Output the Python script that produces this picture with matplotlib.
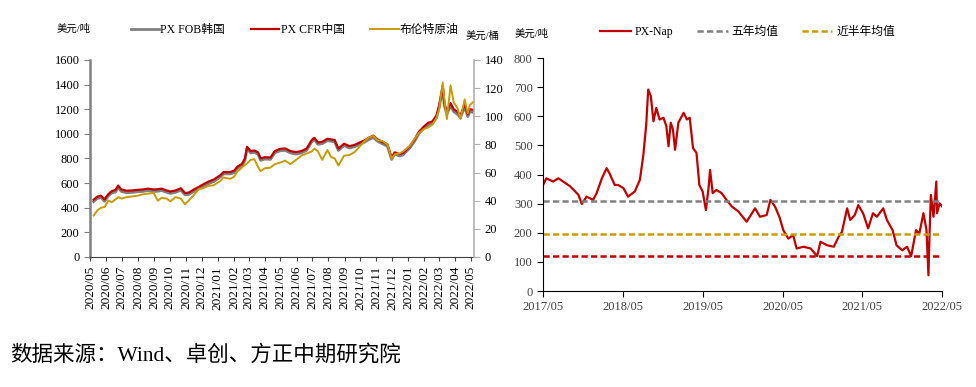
import matplotlib
matplotlib.use("Agg")
from matplotlib import pyplot as plt
import matplotlib.dates as mdates
import pandas as pd

plt.rcParams['font.family'] = ['Liberation Serif', 'Noto Sans CJK SC']
plt.rcParams['axes.unicode_minus'] = False

RED = "#C00000"
GRAY = "#808080"
GOLD = "#C99A06"

# left chart: PX prices (USD/t) and Brent (USD/bbl)
left_dates = [
    "2020-05-08", "2020-05-15", "2020-05-22", "2020-05-29", "2020-06-05", "2020-06-12",
    "2020-06-19", "2020-06-24", "2020-06-30", "2020-07-10", "2020-07-20", "2020-07-31",
    "2020-08-10", "2020-08-20", "2020-08-31", "2020-09-08", "2020-09-15", "2020-09-25",
    "2020-10-02", "2020-10-12", "2020-10-22", "2020-10-30", "2020-11-06", "2020-11-16",
    "2020-11-25", "2020-12-04", "2020-12-14", "2020-12-24", "2021-01-06", "2021-01-12",
    "2021-01-25", "2021-02-01", "2021-02-08", "2021-02-16", "2021-02-22", "2021-02-26",
    "2021-03-05", "2021-03-12", "2021-03-19", "2021-03-24", "2021-04-01", "2021-04-12",
    "2021-04-20", "2021-04-30", "2021-05-10", "2021-05-20", "2021-05-31", "2021-06-10",
    "2021-06-20", "2021-06-30", "2021-07-05", "2021-07-12", "2021-07-20", "2021-07-30",
    "2021-08-06", "2021-08-13", "2021-08-20", "2021-08-31", "2021-09-10", "2021-09-20",
    "2021-09-30", "2021-10-08", "2021-10-18", "2021-10-26", "2021-11-03", "2021-11-12",
    "2021-11-22", "2021-11-30", "2021-12-06", "2021-12-15", "2021-12-22", "2022-01-04",
    "2022-01-13", "2022-01-21", "2022-01-31", "2022-02-08", "2022-02-16", "2022-02-24",
    "2022-03-01", "2022-03-08", "2022-03-11", "2022-03-16", "2022-03-23", "2022-03-29",
    "2022-04-05", "2022-04-11", "2022-04-19", "2022-04-25", "2022-04-29", "2022-05-05",
]
px_cfr_china = [
    465, 490, 498, 468, 510, 535, 545, 580, 548, 538, 540, 545,
    548, 555, 548, 550, 555, 540, 532, 540, 558, 520, 522, 548,
    568, 590, 612, 628, 665, 690, 690, 700, 735, 755, 800, 895,
    860, 865, 850, 800, 810, 808, 860, 878, 882, 860, 852, 860,
    880, 950, 968, 930, 935, 960, 955, 950, 880, 920, 900, 910,
    930, 945, 970, 985, 955, 935, 915, 808, 850, 835, 845, 900,
    955, 1015, 1060, 1090, 1100, 1150, 1230, 1390, 1250, 1180, 1250, 1200,
    1180, 1150, 1240, 1160, 1200, 1195,
]
px_fob_korea = [
    450, 475, 482, 452, 495, 520, 528, 565, 532, 522, 524, 530,
    532, 540, 532, 534, 540, 525, 516, 525, 542, 505, 507, 532,
    552, 575, 596, 612, 650, 675, 675, 685, 720, 740, 785, 880,
    845, 850, 835, 785, 795, 793, 845, 862, 866, 845, 836, 845,
    865, 935, 952, 915, 920, 945, 940, 935, 865, 905, 885, 895,
    915, 930, 955, 970, 940, 920, 900, 792, 835, 820, 830, 885,
    940, 1000, 1045, 1072, 1082, 1130, 1210, 1370, 1230, 1160, 1228, 1180,
    1160, 1130, 1220, 1140, 1180, 1175,
]
brent = [
    29.5, 33, 35, 35.5, 40, 39, 41, 42.5, 41.5, 42.5, 43, 43.5,
    44.5, 45, 45.5, 40, 42, 41.5, 39.5, 42.5, 41.5, 37.5, 40, 44,
    48, 49, 50.5, 51, 54, 56.5, 55.5, 57, 61, 63.5, 65.5, 66.5,
    69, 69.5, 64, 61, 63, 63.5, 66, 67, 68.5, 66, 69, 72,
    73.5, 75, 77, 75, 69, 76, 71, 70, 65, 72, 72.5, 74.5,
    78.5, 82, 85, 86, 83, 82.5, 80, 70, 73, 73.5, 75, 79,
    84, 88, 91, 92, 94, 99, 105, 124, 112, 98, 122, 110,
    106, 98, 112, 102, 108, 110,
]

# right chart: PX-naphtha spread (USD/t)
right_dates = [
    "2017-05-01", "2017-05-16", "2017-06-16", "2017-07-10", "2017-08-01", "2017-09-01",
    "2017-09-25", "2017-10-10", "2017-10-25", "2017-11-16", "2017-12-16", "2018-01-01",
    "2018-01-25", "2018-02-16", "2018-03-01", "2018-03-25", "2018-04-10", "2018-05-04",
    "2018-05-25", "2018-06-25", "2018-07-18", "2018-08-03", "2018-08-16", "2018-08-25",
    "2018-09-06", "2018-09-18", "2018-10-01", "2018-10-16", "2018-11-03", "2018-11-16",
    "2018-11-26", "2018-12-06", "2018-12-16", "2018-12-26", "2019-01-10", "2019-02-03",
    "2019-02-18", "2019-03-03", "2019-03-18", "2019-04-03", "2019-04-16", "2019-05-01",
    "2019-05-16", "2019-05-28", "2019-06-04", "2019-06-16", "2019-07-03", "2019-07-27",
    "2019-08-18", "2019-09-12", "2019-10-12", "2019-11-18", "2019-12-27", "2020-01-18",
    "2020-02-18", "2020-03-06", "2020-03-27", "2020-04-16", "2020-05-04", "2020-05-27",
    "2020-06-18", "2020-07-04", "2020-08-04", "2020-09-06", "2020-10-06", "2020-10-21",
    "2020-11-21", "2020-12-21", "2021-01-12", "2021-01-27", "2021-02-20", "2021-03-06",
    "2021-03-27", "2021-04-12", "2021-05-04", "2021-05-27", "2021-06-18", "2021-07-06",
    "2021-08-04", "2021-08-21", "2021-09-16", "2021-10-04", "2021-10-30", "2021-11-21",
    "2021-12-10", "2022-01-01", "2022-01-16", "2022-02-04", "2022-02-18", "2022-02-27",
    "2022-03-04", "2022-03-10", "2022-03-22", "2022-04-04", "2022-04-07", "2022-04-19",
    "2022-05-01",
]
px_nap = [
    364, 387, 376, 387, 376, 360,
    342, 330, 299, 324, 313, 336,
    387, 422, 404, 364, 364, 353,
    324, 342, 382, 468, 572, 692,
    669, 583, 629, 589, 595, 566,
    497, 578, 555, 485, 578, 612,
    589, 595, 491, 474, 364, 342,
    278, 353, 416, 336, 347, 336,
    313, 290, 273, 238, 284, 255,
    261, 313, 290, 255, 209, 180,
    192, 146, 152, 146, 120, 169,
    157, 152, 186, 203, 284, 244,
    261, 295, 267, 215, 267, 255,
    284, 244, 209, 157, 140, 152,
    120, 209, 197, 267, 209, 54,
    197, 330, 255, 376, 267, 301,
    290,
]
five_year_mean = 310
half_year_mean = 197
low_line = 120
low_line_end = "2022-04-15"

ld = pd.to_datetime(left_dates)
rd = pd.to_datetime(right_dates)

fig = plt.figure(figsize=(9.76, 3.87), dpi=100)

# ---- left chart
ax = fig.add_axes([0.0922, 0.336, 0.3935, 0.509])
ax2 = ax.twinx()
l1, = ax.plot(ld, px_fob_korea, color=GRAY, lw=2.0, label="PX FOB韩国")
l2, = ax.plot(ld, px_cfr_china, color=RED, lw=1.6, label="PX CFR中国")
l3, = ax2.plot(ld, brent, color=GOLD, lw=1.4, label="布伦特原油")
ax.set_zorder(ax2.get_zorder() - 1)
ax.patch.set_visible(False)
ax2.patch.set_visible(False)

ax.set_ylim(0, 1600)
ax.set_yticks(range(0, 1601, 200))
ax2.set_ylim(0, 140)
ax2.set_yticks(range(0, 141, 20))
ax.set_xlim(pd.Timestamp("2020-05-01"), pd.Timestamp("2022-05-07"))
ax.xaxis.set_major_locator(mdates.MonthLocator())
ax.xaxis.set_major_formatter(mdates.DateFormatter("%Y/%m"))
for lab in ax.get_xticklabels():
    lab.set_rotation(90)
ax.tick_params(axis="x", labelsize=9.5, length=3, color="#404040")
ax.tick_params(axis="y", labelsize=9, length=4, color=GRAY)
ax2.tick_params(axis="y", labelsize=9, length=4, color="#B0B0B0")
for a in (ax, ax2):
    a.spines["top"].set_visible(False)
ax.spines["right"].set_visible(False)
ax2.spines["left"].set_visible(False)
ax2.spines["bottom"].set_visible(False)
ax.spines["left"].set_color(GRAY)
ax.spines["left"].set_linewidth(1.8)
ax.spines["bottom"].set_color("#404040")
ax2.spines["right"].set_color("#B0B0B0")
ax2.spines["right"].set_linewidth(1.2)

fig.text(0.058, 0.925, "美元/吨", fontsize=7.5, va="center")
fig.text(0.477, 0.908, "美元/桶", fontsize=7.5, va="center")
fig.legend(handles=[l1, l2, l3], loc="center", bbox_to_anchor=(0.302, 0.922),
           ncol=3, frameon=False, fontsize=8.5, handlelength=2.4,
           handletextpad=0.1, columnspacing=2.2)

# ---- right chart
bx = fig.add_axes([0.5564, 0.248, 0.409, 0.602])
m1, = bx.plot(rd, px_nap, color=RED, lw=1.6, label="PX-Nap")
m2 = bx.axhline(five_year_mean, color=GRAY, lw=1.8, ls=(0, (2.5, 1.3)), label="五年均值")
m3 = bx.axhline(half_year_mean, color=GOLD, lw=1.8, ls=(0, (2.5, 1.3)), label="近半年均值")
bx.hlines(low_line, pd.Timestamp(right_dates[0]), pd.Timestamp(low_line_end),
          color=RED, lw=1.8, linestyles=[(0, (2.5, 1.3))])
bx.set_ylim(0, 800)
bx.set_yticks(range(0, 801, 100))
bx.set_xlim(pd.Timestamp("2017-05-01"), pd.Timestamp("2022-05-01"))
bx.xaxis.set_major_locator(mdates.MonthLocator(bymonth=5))
bx.xaxis.set_major_formatter(mdates.DateFormatter("%Y/%m"))
bx.tick_params(axis="both", labelsize=9, length=4, labelcolor="#404040")
bx.spines["top"].set_visible(False)
bx.spines["right"].set_visible(False)

fig.text(0.527, 0.914, "美元/吨", fontsize=7.5, va="center")
fig.legend(handles=[m1, m2, m3], loc="center", bbox_to_anchor=(0.766, 0.918),
           ncol=3, frameon=False, fontsize=8.5, handlelength=2.6,
           handletextpad=0.3, columnspacing=2.0)

fig.text(0.01, 0.083, "数据来源：Wind、卓创、方正中期研究院", fontsize=15.5, va="center",
         family=["Liberation Serif", "Noto Sans CJK SC"])

fig.savefig("out.png", dpi=100)
